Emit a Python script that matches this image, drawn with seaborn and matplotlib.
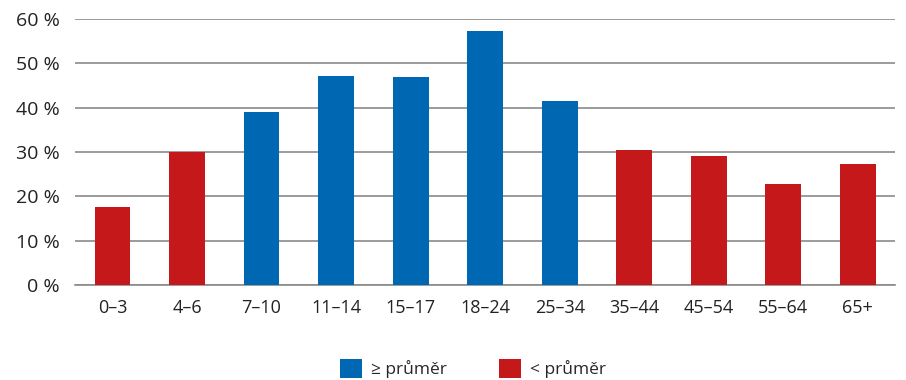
import matplotlib
matplotlib.use("Agg")
import matplotlib.pyplot as plt
from matplotlib.patches import Patch
from matplotlib.ticker import FuncFormatter
import seaborn as sns
import pandas as pd

age_groups = ["0–3", "4–6", "7–10", "11–14", "15–17", "18–24",
              "25–34", "35–44", "45–54", "55–64", "65+"]
shares = [17.6, 29.9, 39.1, 47.2, 47.0, 57.3, 41.5, 30.5, 29.1, 22.8, 27.3]
groups = ["< průměr", "< průměr", "≥ průměr", "≥ průměr", "≥ průměr", "≥ průměr",
          "≥ průměr", "< průměr", "< průměr", "< průměr", "< průměr"]
legend_labels = ["≥ průměr", "< průměr"]
colors = {"≥ průměr": "#0068B3", "< průměr": "#C5181A"}

df = pd.DataFrame({"age": age_groups, "share": shares, "group": groups})

sns.set_theme(style="white")
plt.rcParams["font.family"] = ["Open Sans", "DejaVu Sans"]

fig = plt.figure(figsize=(9.06, 3.8), dpi=100)
ax = fig.add_axes([0.083, 0.25, 0.905, 0.70])

sns.barplot(data=df, x="age", y="share", hue="group", hue_order=legend_labels,
            palette=colors, dodge=False, width=0.48, saturation=1,
            linewidth=0, legend=False, ax=ax, zorder=3)

ax.set_ylim(0, 60)
ax.set_xlim(-0.5, len(age_groups) - 0.5)
ax.set_yticks(range(0, 61, 10))
ax.yaxis.set_major_formatter(FuncFormatter(lambda v, _: f"{int(v)} %"))
ax.grid(axis="y", color="#8a8a8a", linewidth=1.2, zorder=0)
ax.set_axisbelow(True)
for side in ["left", "right", "top"]:
    ax.spines[side].set_visible(False)
ax.spines["bottom"].set_color("#8a8a8a")
ax.spines["bottom"].set_linewidth(1.2)
ax.tick_params(axis="y", length=0, labelsize=14, colors="#222222", pad=11)
ax.tick_params(axis="x", length=0, labelsize=13, colors="#222222", pad=10)
ax.set_xlabel("")
ax.set_ylabel("")

handles = [Patch(facecolor=colors[g], edgecolor="none") for g in legend_labels]
fig.legend(handles, legend_labels, loc="upper center", bbox_to_anchor=(0.522, 0.078),
           ncol=2, frameon=False, fontsize=12.5, handlelength=1.3, handleheight=1.3,
           columnspacing=3.0, handletextpad=0.5, borderpad=0)

fig.savefig("out.png", dpi=100)
